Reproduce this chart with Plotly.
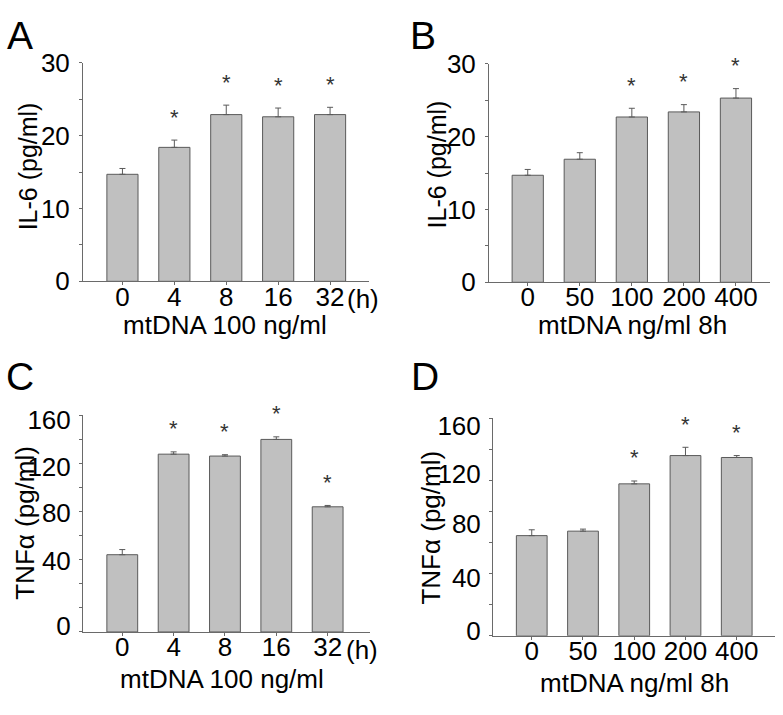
import plotly.graph_objects as go

# ---------------- data ----------------
time_labels = ["0", "4", "8", "16", "32"]
dose_labels = ["0", "50", "100", "200", "400"]

il6_time = [14.7, 18.4, 22.9, 22.6, 22.9]
il6_time_err = [0.8, 1.0, 1.3, 1.2, 1.0]
il6_time_sig = [False, True, True, True, True]

il6_dose = [14.7, 16.9, 22.7, 23.4, 25.3]
il6_dose_err = [0.8, 0.9, 1.2, 1.0, 1.3]
il6_dose_sig = [False, False, True, True, True]

tnf_time = [57.1, 131.4, 130.0, 142.3, 92.5]
tnf_time_err = [3.8, 1.7, 1.0, 1.9, 1.0]
tnf_time_sig = [False, True, True, True, True]

tnf_dose = [73.7, 77.0, 111.8, 132.6, 131.2]
tnf_dose_err = [4.3, 1.5, 2.1, 6.1, 1.4]
tnf_dose_sig = [False, False, True, True, True]

il6_ticklabels = ["0", "10", "20", "30"]
il6_label_vals = [0, 10, 20, 30]
il6_minor_vals = [5, 15, 25]

tnf_ticklabels = ["0", "40", "80", "120", "160"]
tnf_time_label_vals = [4.5, 52.6, 88.0, 122.2, 156.5]
tnf_time_tick_vals = [160 * i / 9 for i in range(10)]
tnf_dose_label_vals = [3.5, 42.4, 82.0, 119.4, 154.7]
tnf_dose_tick_vals = [160 * i / 7 for i in range(8)]

W, H = 783, 715
FONT = "Liberation Sans, Arial, sans-serif"
AX = "#6a6a6a"
TXT = "#000000"
BAR_FILL = "#c0c0c0"
BAR_LINE = "#5a5a5a"

def px(x):
    return x / W

def py(y):
    return 1 - y / H

panels = [
    dict(ax="", cats=time_labels, vals=il6_time, err=il6_time_err, sig=il6_time_sig,
         xdom=(83, 369), ydom=(50, 278), xr=(-0.76, 4.75), yr=(0, 30),
         labvals=il6_label_vals, labtext=il6_ticklabels, ticks=il6_minor_vals, major_ticks=True,
         letter="A", letter_xy=(20, 21), ytitle="IL-6 (pg/ml)", ytitle_xy=(28, 158), ytsize=25,
         xtitle="mtDNA 100 ng/ml", xtitle_xy=(225, 324), h_xy=(363, 296)),
    dict(ax="2", cats=dose_labels, vals=il6_dose, err=il6_dose_err, sig=il6_dose_sig,
         xdom=(489, 770), ydom=(51, 279), xr=(-0.744, 4.654), yr=(0, 30),
         labvals=il6_label_vals, labtext=il6_ticklabels, ticks=il6_minor_vals, major_ticks=True,
         letter="B", letter_xy=(423, 21), ytitle="IL-6 (pg/ml)", ytitle_xy=(437, 156), ytsize=25,
         xtitle="mtDNA ng/ml 8h", xtitle_xy=(632, 324), h_xy=None),
    dict(ax="3", cats=time_labels, vals=tnf_time, err=tnf_time_err, sig=tnf_time_sig,
         xdom=(83, 370), ydom=(418, 644), xr=(-0.765, 4.825), yr=(0, 160),
         labvals=tnf_time_label_vals, labtext=tnf_ticklabels, ticks=tnf_time_tick_vals, major_ticks=False,
         letter="C", letter_xy=(20, 377), ytitle="TNF\u03b1 (pg/ml)", ytitle_xy=(25, 530), ytsize=26,
         xtitle="mtDNA 100 ng/ml", xtitle_xy=(222, 693), h_xy=(362, 663)),
    dict(ax="4", cats=dose_labels, vals=tnf_dose, err=tnf_dose_err, sig=tnf_dose_sig,
         xdom=(493, 775), ydom=(421, 648), xr=(-0.756, 4.747), yr=(0, 160),
         labvals=tnf_dose_label_vals, labtext=tnf_ticklabels, ticks=tnf_dose_tick_vals, major_ticks=False,
         letter="D", letter_xy=(425, 377), ytitle="TNF\u03b1 (pg/ml)", ytitle_xy=(431, 535), ytsize=26,
         xtitle="mtDNA ng/ml 8h", xtitle_xy=(634, 697), h_xy=None),
]

fig = go.Figure()
annotations = []
layout = dict(
    width=W, height=H, margin=dict(l=0, r=0, t=0, b=0),
    paper_bgcolor="white", plot_bgcolor="white", showlegend=False,
    font=dict(family=FONT, color=TXT),
)

for p in panels:
    a = p["ax"]
    xref = "x" + a
    yref = "y" + a
    pos = list(range(len(p["cats"])))
    fig.add_trace(go.Bar(
        x=pos, y=p["vals"], width=0.6,
        marker=dict(color=BAR_FILL, line=dict(color=BAR_LINE, width=1)),
        error_y=dict(type="data", symmetric=False, array=p["err"],
                     arrayminus=[0] * len(p["err"]), color=BAR_LINE,
                     thickness=1, width=3),
        xaxis=xref, yaxis=yref, hoverinfo="skip",
    ))
    for i, v, e, s in zip(pos, p["vals"], p["err"], p["sig"]):
        if s:
            annotations.append(dict(x=i, y=v + e, xref=xref, yref=yref, text="*",
                                    showarrow=False, xanchor="center", yanchor="middle", yshift=23,
                                    font=dict(size=22, color="#333", family=FONT)))
    xa = "xaxis" + a
    ya = "yaxis" + a
    layout[xa] = dict(
        domain=[px(p["xdom"][0]), px(p["xdom"][1])], anchor=yref,
        range=list(p["xr"]), showline=True, linecolor=AX, linewidth=1,
        tickmode="array", tickvals=pos, ticktext=p["cats"],
        ticks="outside", ticklen=3, tickcolor=AX, tickwidth=1, showgrid=False,
        zeroline=False, tickfont=dict(size=26, family=FONT, color=TXT),
        ticklabelstandoff=-11, fixedrange=True,
    )
    yax = dict(
        domain=[py(p["ydom"][1]), py(p["ydom"][0])], anchor=xref,
        range=list(p["yr"]), showline=True, linecolor=AX, linewidth=1,
        tickmode="array", tickvals=p["labvals"], ticktext=p["labtext"],
        minor=dict(tickmode="array", tickvals=p["ticks"], ticks="outside", ticklen=3,
                   tickcolor=AX, tickwidth=1, showgrid=False),
        showgrid=False, zeroline=False,
        tickfont=dict(size=26, family=FONT, color=TXT), fixedrange=True,
    )
    if p["major_ticks"]:
        yax.update(ticks="outside", ticklen=3, tickcolor=AX, tickwidth=1, ticklabelstandoff=4)
    else:
        yax.update(ticks="", ticklabelstandoff=6)
    layout[ya] = yax
    lx, ly = p["letter_xy"]
    annotations.append(dict(x=px(lx), y=py(ly), xref="paper", yref="paper", text=p["letter"],
                            showarrow=False, xanchor="center", yanchor="middle",
                            font=dict(size=39, family=FONT, color="#000")))
    tx, ty = p["ytitle_xy"]
    annotations.append(dict(x=px(tx), y=py(ty), xref="paper", yref="paper", text=p["ytitle"],
                            showarrow=False, xanchor="center", yanchor="middle", textangle=-90,
                            font=dict(size=p["ytsize"], family=FONT, color=TXT)))
    bx, by = p["xtitle_xy"]
    annotations.append(dict(x=px(bx), y=py(by), xref="paper", yref="paper", text=p["xtitle"],
                            showarrow=False, xanchor="center", yanchor="middle",
                            font=dict(size=26, family=FONT, color=TXT)))
    if p["h_xy"]:
        hx, hy = p["h_xy"]
        annotations.append(dict(x=px(hx), y=py(hy), xref="paper", yref="paper", text="(h)",
                                showarrow=False, xanchor="center", yanchor="middle",
                                font=dict(size=26, family=FONT, color=TXT)))

layout["annotations"] = annotations
fig.update_layout(**layout)
fig.write_html(
    "out.html",
    config={"displayModeBar": False, "staticPlot": True},
    post_script="document.body.style.margin='0px';document.body.style.padding='0px';"
                "document.body.style.overflow='hidden';",
)
